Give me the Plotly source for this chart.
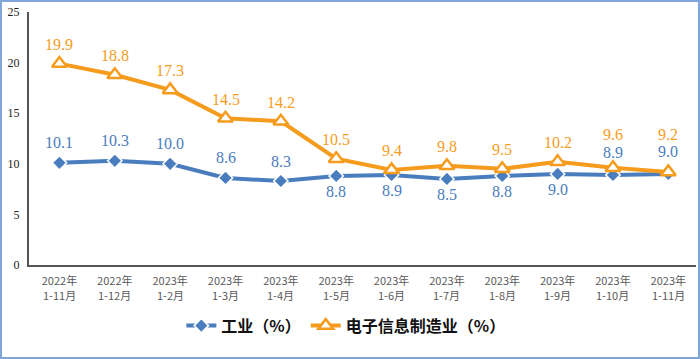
import plotly.graph_objects as go

years = ["2022年", "2022年", "2023年", "2023年", "2023年", "2023年",
         "2023年", "2023年", "2023年", "2023年", "2023年", "2023年"]
periods = ["1-11月", "1-12月", "1-2月", "1-3月", "1-4月", "1-5月",
           "1-6月", "1-7月", "1-8月", "1-9月", "1-10月", "1-11月"]
categories = [f"{y} {p}" for y, p in zip(years, periods)]
industry = [10.1, 10.3, 10.0, 8.6, 8.3, 8.8, 8.9, 8.5, 8.8, 9.0, 8.9, 9.0]
electronics = [19.9, 18.8, 17.3, 14.5, 14.2, 10.5, 9.4, 9.8, 9.5, 10.2, 9.6, 9.2]
# label offsets (pixels) relative to each point, as placed in the original
industry_label_shift = [20, 20, 20, 20, 20, -16, -16, -16, -16, -16, 22, 22]
electronics_label_shift = [19, 19, 19, 19, 19, 19, 19, 19, 19, 19, 33, 37]
y_ticks = [0, 5, 10, 15, 20, 25]

BLUE = "#4A7DBD"
ORANGE = "#F59C1E"
TICKFONT = dict(family="Noto Sans CJK SC", size=11, color="#595959")

fig = go.Figure()
fig.add_trace(go.Scatter(
    x=categories, y=industry, name="<b>工业（%）</b>", mode="lines+markers",
    line=dict(color=BLUE, width=4),
    marker=dict(symbol="diamond", size=11, color=BLUE, line=dict(color="white", width=1.5)),
))
fig.add_trace(go.Scatter(
    x=categories, y=electronics, name="<b>电子信息制造业（%）</b>", mode="lines+markers",
    line=dict(color=ORANGE, width=4),
    marker=dict(symbol="triangle-up", size=13, color="white", line=dict(color=ORANGE, width=2.5)),
))

annotations = []
for c, v, s in zip(categories, industry, industry_label_shift):
    annotations.append(dict(x=c, y=v, yshift=s, text=f"{v:.1f}", showarrow=False,
                            font=dict(family="Liberation Serif", size=16, color=BLUE)))
for c, v, s in zip(categories, electronics, electronics_label_shift):
    annotations.append(dict(x=c, y=v, yshift=s, text=f"{v:.1f}", showarrow=False,
                            font=dict(family="Liberation Serif", size=16, color=ORANGE)))
# second line of the category labels
for c, p in zip(categories, periods):
    annotations.append(dict(x=c, y=0, yref="paper", yanchor="middle", yshift=-30, text=p,
                            showarrow=False, font=TICKFONT))

fig.update_layout(
    width=700, height=359,
    margin=dict(l=29, r=4, t=12, b=94),
    paper_bgcolor="white", plot_bgcolor="white",
    showlegend=True,
    annotations=annotations,
    legend=dict(orientation="h", x=0.475, xanchor="center", y=-0.24, yanchor="middle",
                font=dict(family="Noto Sans CJK SC", size=16, color="#111111"),
                itemwidth=30, bgcolor="rgba(0,0,0,0)"),
    xaxis=dict(type="category", range=[-0.55, 11.5], showline=True, linecolor="#555555", linewidth=2,
               tickmode="array", tickvals=categories, ticktext=years,
               ticks="", showgrid=False, zeroline=False, automargin=False, ticklabelstandoff=5,
               tickfont=TICKFONT),
    yaxis=dict(range=[0, 25], tickvals=y_ticks, showline=True, linecolor="#555555", linewidth=2,
               ticks="", showgrid=False, zeroline=False, automargin=False,
               tickfont=dict(family="Liberation Serif", size=12, color="#222222"),
               tickprefix="<b>", ticksuffix="</b>", ticklabelstandoff=5),
    shapes=[dict(type="rect", xref="paper", yref="paper", x0=-28/667, x1=1+3/667,
                 y0=-93/253, y1=1+11/253,
                 line=dict(color="#7FA7D9", width=2), fillcolor="rgba(0,0,0,0)", layer="below")],
)

fig.write_html("out.html", config={"displayModeBar": False},
               post_script="document.body.style.margin='0';document.body.style.overflow='hidden';")
